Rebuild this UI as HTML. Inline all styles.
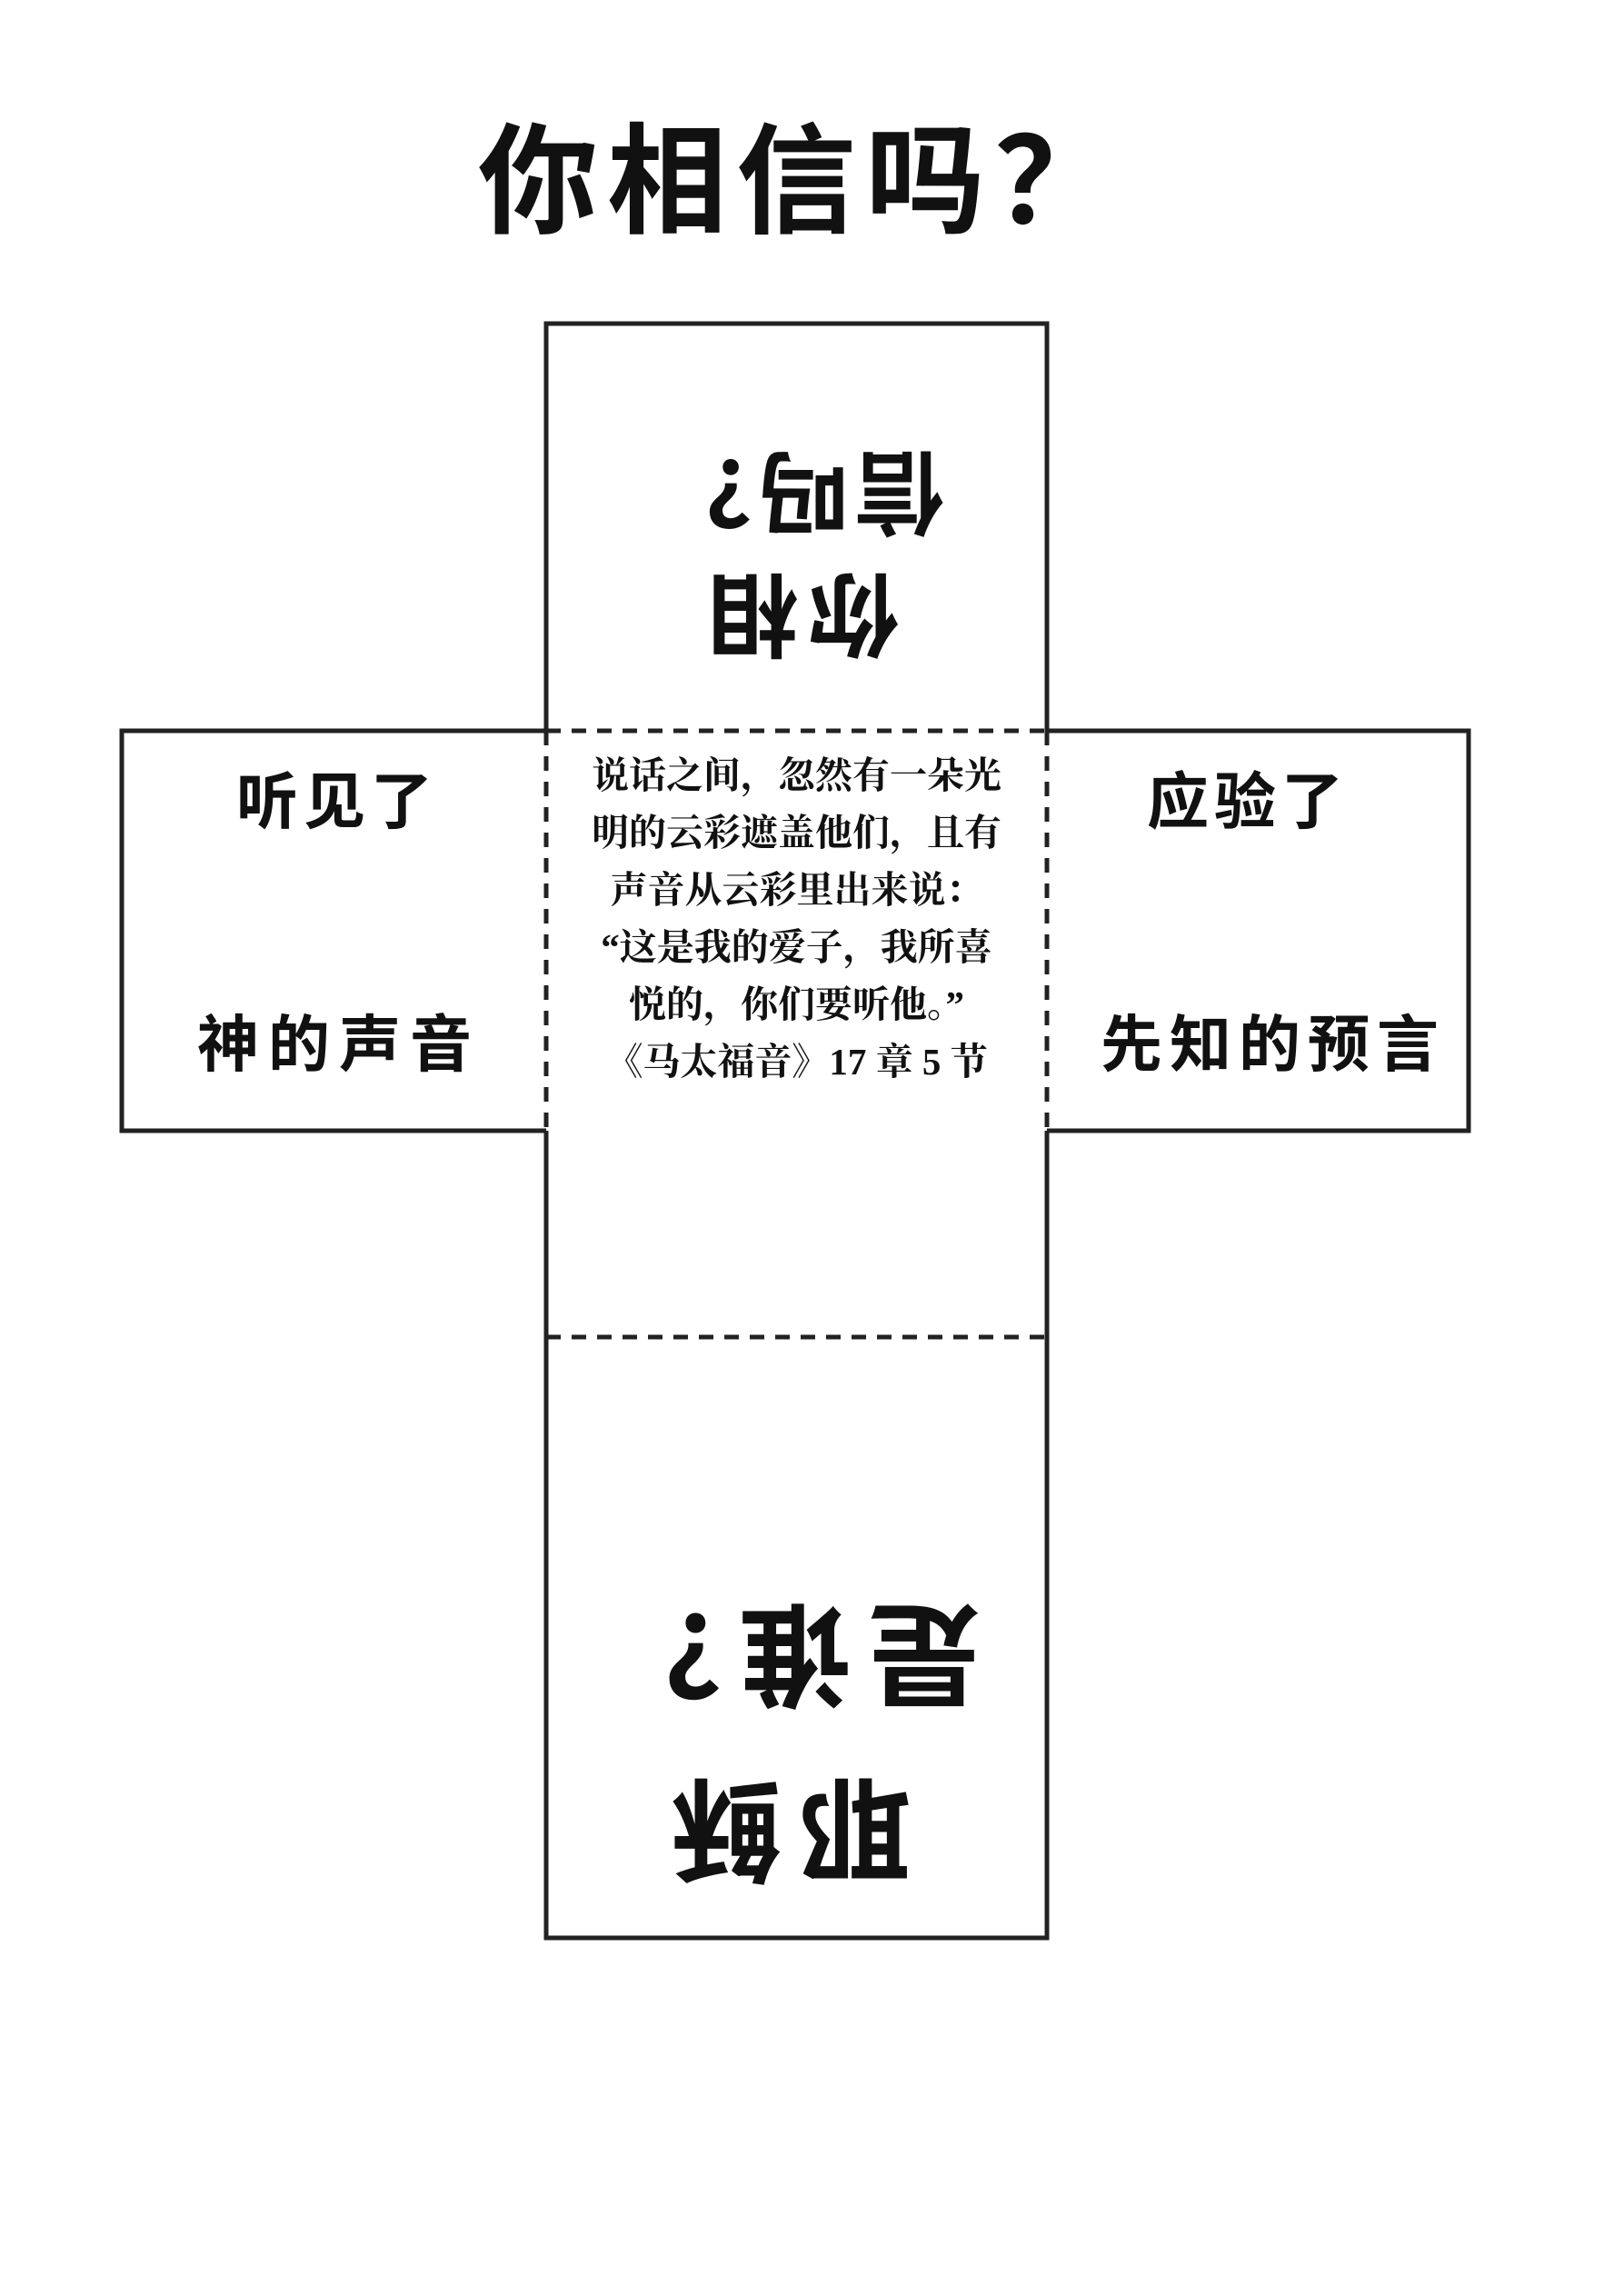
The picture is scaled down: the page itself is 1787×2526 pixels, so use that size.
<!DOCTYPE html>
<html><head><meta charset="utf-8"><style>
html,body{margin:0;padding:0;background:#fff;}
body{width:1787px;height:2526px;position:relative;overflow:hidden;font-family:"Liberation Serif","Noto Serif CJK SC",serif;color:#111;}
.b{position:absolute;box-sizing:border-box;}
.t{position:absolute;white-space:nowrap;font-family:"Liberation Sans","Noto Sans CJK SC",sans-serif;font-weight:bold;line-height:1;transform:translate(-50%,-50%);}
.r{transform:translate(-50%,-50%) rotate(180deg);}
.c{position:absolute;left:601px;width:551px;text-align:center;font-size:41px;line-height:63px;white-space:nowrap;font-weight:bold;}
</style></head><body>
<div class="t" style="left:876px;top:201px;font-size:132px;letter-spacing:10px;padding-left:10px;">你相信吗？</div>

<svg class="b" style="left:0;top:0" width="1787" height="2526">
<g stroke="#222" stroke-width="5" fill="none">
<polyline points="601,804 601,356 1152,356 1152,804"/>
<polyline points="601,804 134,804 134,1244 601,1244"/>
<polyline points="1152,804 1616,804 1616,1244 1152,1244"/>
<polyline points="601,1244 601,2132 1152,2132 1152,1244"/>
<g stroke-dasharray="16,12">
<line x1="601" y1="804" x2="1152" y2="804"/>
<line x1="601" y1="804" x2="601" y2="1244"/>
<line x1="1152" y1="804" x2="1152" y2="1244"/>
<line x1="601" y1="1471" x2="1152" y2="1471"/>
</g>
</g>
</svg>

<div class="t r" style="left:884px;top:540px;font-size:100px;letter-spacing:6px;padding-left:6px;">信吗？</div>
<div class="t r" style="left:884px;top:674px;font-size:100px;letter-spacing:10px;padding-left:10px;">你相</div>

<div class="t" style="left:368px;top:883px;font-size:68px;letter-spacing:6px;padding-left:6px;">听见了</div>
<div class="t" style="left:368px;top:1150px;font-size:68px;letter-spacing:10px;padding-left:10px;">神的声音</div>
<div class="t" style="left:1370px;top:883px;font-size:68px;letter-spacing:6px;padding-left:6px;">应验了</div>
<div class="t" style="left:1397px;top:1150px;font-size:68px;letter-spacing:8px;padding-left:8px;">先知的预言</div>

<div class="c" style="top:822px;">说话之间，忽然有一朵光<br>明的云彩遮盖他们，且有<br>声音从云彩里出来说：<br>“这是我的爱子，我所喜<br>悦的，你们要听他。”<br>《马太福音》17 章 5 节</div>

<div class="t r" style="left:875px;top:1818px;font-size:124px;letter-spacing:18px;padding-left:18px;">是谁？</div>
<div class="t r" style="left:870px;top:2010px;font-size:124px;letter-spacing:18px;padding-left:18px;">耶稣</div>
</body></html>
